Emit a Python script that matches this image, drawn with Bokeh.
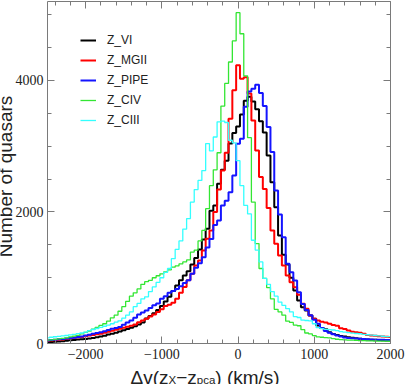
import numpy as np
from bokeh.plotting import figure
from bokeh.models import FixedTicker, LinearAxis, Range1d, Label
from bokeh.embed import file_html
from bokeh.resources import INLINE

# ---- data (counts per 50 km/s bin, bin centres from -2500 to 2000 km/s) ----
v_start = -2500
bin_width = 50

z_vi = [20, 23, 27, 32, 36, 42, 48, 55, 60, 65,
        70, 75, 82, 95, 105, 118, 135, 150, 165, 182,
        200, 222, 240, 262, 290, 320, 380, 420, 460, 510,
        570, 640, 710, 800, 880, 960, 1034, 1100, 1200, 1300,
        1430, 1580, 1744, 2020, 2100, 2430, 2640, 2780, 3040, 3200,
        3300,
        3480, 3690, 3750, 3680, 3560, 3380, 3210, 2860, 2450, 2070,
        1643, 1350, 1200, 1000, 806, 654, 552, 502, 426, 376,
        274, 235, 215, 172, 145, 130, 115, 105, 96, 88,
        78, 71, 66, 62, 58, 56, 52, 49, 47, 45]

z_mgii = [40, 45, 50, 56, 62, 70, 78, 86, 94, 100,
          110, 122, 130, 140, 150, 165, 180, 195, 210, 224,
          240, 255, 270, 290, 324, 350, 376, 410, 440, 480,
          520, 570, 590, 620, 680, 770, 860, 960, 1060, 1186,
          1262, 1414, 1592, 1720, 2000, 2340, 2631, 2900, 3418, 3850,
          4230,
          4026, 4050, 3800, 3390, 2935, 2530, 2350, 2060, 1719, 1516,
          1338, 1186, 1034, 932, 856, 740, 604, 528, 426, 376,
          350, 330, 318, 300, 280, 268, 230, 220, 198, 180,
          172, 165, 148, 128, 122, 118, 110, 106, 104, 100]

z_pipe = [46, 52, 58, 64, 70, 76, 82, 88, 98, 108,
          120, 132, 148, 160, 172, 185, 205, 224, 235, 250,
          285, 320, 350, 390, 440, 470, 500, 540, 580, 610,
          680, 720, 770, 800, 830, 870, 920, 960, 1060, 1150,
          1220, 1310, 1460, 1590, 1800, 1870, 2100, 2170, 2300, 2555,
          3037,
          3113, 3600, 3830, 3874, 3935, 3810, 3610, 3290, 2910, 2327,
          1960, 1617, 1212, 1085, 958, 780, 600, 510, 430, 360,
          300, 235, 190, 165, 140, 122, 105, 90, 85, 80,
          76, 73, 70, 66, 62, 58, 57, 56, 55, 54]

z_civ = [50, 55, 62, 70, 78, 87, 100, 112, 125, 145,
         170, 190, 220, 245, 275, 300, 340, 390, 430, 490,
         560, 640, 720, 770, 830, 900, 940, 960, 1000, 1030,
         1060, 1090, 1120, 1160, 1180, 1210, 1240, 1270, 1390, 1420,
         1560, 1720, 2050, 2400, 2640, 2900, 3610, 3955, 4280, 4600,
         5030,
         4710, 4070, 3130, 2150, 1520, 1140, 990, 850, 680, 520,
         480, 430, 340, 320, 280, 270, 210, 160, 145, 120,
         100, 95, 90, 85, 75, 65, 58, 55, 52, 50,
         47, 45, 43, 41, 40, 38, 37, 36, 35, 34]

z_ciii = [85, 95, 103, 108, 115, 122, 132, 140, 150, 160,
          172, 195, 213, 228, 245, 262, 280, 300, 325, 345,
          385, 430, 480, 560, 610, 680, 710, 790, 860, 930,
          1000, 1080, 1140, 1290, 1430, 1560, 1740, 1900, 2150, 2340,
          2480, 2630, 3040, 2930, 3140, 3370, 3380, 3360, 3090, 3050,
          2780,
          2400, 2100, 1970, 1570, 1420, 1240, 990, 900, 790, 720,
          630, 580, 530, 480, 410, 395, 355, 350, 345, 300,
          240, 225, 215, 210, 205, 195, 180, 172, 165, 158,
          152, 148, 140, 133, 127, 122, 115, 110, 106, 104]

series_names = ["Z_VI", "Z_MGII", "Z_PIPE", "Z_CIV", "Z_CIII"]
series_data = [z_vi, z_mgii, z_pipe, z_civ, z_ciii]
series_colors = ["#000000", "#ff0000", "#1414ff", "#33e633", "#33ffff"]
series_widths = [2, 2, 2, 1.3, 1.3]

x_lim = (-2500, 2000)
y_lim = (0, 5200)
x_major = [-2000, -1000, 0, 1000, 2000]
x_labels = {-2000: "\u22122000", -1000: "\u22121000", 0: "0", 1000: "1000", 2000: "2000"}
y_major = [0, 2000, 4000]
x_minor = list(range(-2400, 2001, 200))
y_minor = list(range(0, 5201, 500))

y_title = "Number of quasars"
x_title_parts = ["\u0394v(z", "X", "\u2212z", "pca", ") (km/s)"]

AX = "#7a7a7a"
TXT = "#222222"
SERIF = "Liberation Serif"
SANS = "Liberation Sans"

# ---- layout geometry (pixels from the figure's top-left corner) ----
FIG_W, FIG_H = 405, 384
AX_LEFT, AX_RIGHT = 47, 390      # x of x_lim[0], x_lim[1]
AX_BOTTOM, AX_TOP = 343, 1       # y of y_lim[0], y_lim[1]
sx = (AX_RIGHT - AX_LEFT) / (x_lim[1] - x_lim[0])
sy = (AX_BOTTOM - AX_TOP) / (y_lim[1] - y_lim[0])
xr0 = x_lim[0] - AX_LEFT / sx
yr0 = y_lim[0] - (FIG_H - AX_BOTTOM) / sy
xr = Range1d(xr0, xr0 + FIG_W / sx)
yr = Range1d(yr0, yr0 + FIG_H / sy)

def px2x(px):
    return xr0 + px / sx

def py2y(py):
    return yr0 + (FIG_H - py) / sy

p = figure(width=FIG_W, height=FIG_H, output_backend="svg", toolbar_location=None,
           x_range=xr, y_range=yr, x_axis_type=None, y_axis_type=None,
           min_border=0, min_border_left=0, min_border_right=0,
           min_border_top=0, min_border_bottom=0)
p.grid.visible = False
p.outline_line_color = None
p.background_fill_color = "white"

for name, data, col, lw in zip(series_names, series_data, series_colors, series_widths):
    centres = v_start + bin_width * np.arange(len(data))
    p.step(centres, data, mode="center", line_color=col, line_width=lw,
           legend_label=name)

def make_axis(ticks, minor, loc, bounds, labels):
    ax = LinearAxis(ticker=FixedTicker(ticks=ticks, minor_ticks=minor),
                    fixed_location=loc, bounds=bounds)
    ax.axis_line_color = AX
    ax.major_tick_line_color = AX
    ax.minor_tick_line_color = AX
    ax.major_tick_in = 7
    ax.major_tick_out = 0
    ax.minor_tick_in = 4
    ax.minor_tick_out = 0
    if labels is None:
        ax.major_label_overrides = {t: "" for t in ticks}
        ax.major_label_text_font_size = "1px"
        ax.major_label_standoff = 0
    else:
        ax.major_label_overrides = labels
        ax.major_label_text_font = SERIF
        ax.major_label_text_font_size = "14px"
        ax.major_label_text_color = TXT
        ax.major_label_standoff = 4
    return ax

xb = make_axis(x_major, x_minor, y_lim[0], x_lim, x_labels)
xb.major_label_standoff = 5
p.add_layout(xb, "below")
p.add_layout(make_axis(x_major, x_minor, y_lim[1], x_lim, None), "above")
p.add_layout(make_axis(y_major, y_minor, x_lim[0], y_lim,
                       {t: str(t) for t in y_major}), "left")
p.add_layout(make_axis(y_major, y_minor, x_lim[1], y_lim, None), "right")

# legend
lg = p.legend[0]
lg.location = (80, 254)
lg.border_line_color = None
lg.background_fill_alpha = 0
lg.label_text_font = SANS
lg.label_text_font_size = "12px"
lg.label_text_color = TXT
lg.glyph_width = 16
lg.glyph_height = 20
lg.label_height = 20
lg.spacing = 0
lg.padding = 8
lg.label_standoff = 11

# y title, at the left edge as in the original
p.add_layout(Label(x=px2x(5), y=py2y(176), text=y_title, angle=np.pi / 2,
                   text_align="center", text_baseline="alphabetic",
                   text_font=SANS, text_font_size="19px", text_color=TXT))

# x title with subscripts
start = 130
offsets = [0, 38, 45.7, 66.3, 84.8]
sizes = ["19px", "11.5px", "19px", "11.5px", "19px"]
baselines = [377, 379.5, 377, 379.5, 377]
for txt, off, fs, bl in zip(x_title_parts, offsets, sizes, baselines):
    p.add_layout(Label(x=px2x(start + off), y=py2y(bl), text=txt, text_align="left",
                       text_baseline="alphabetic", text_font=SANS,
                       text_font_size=fs, text_color=TXT))

open("out.html", "w").write(file_html(p, INLINE))
